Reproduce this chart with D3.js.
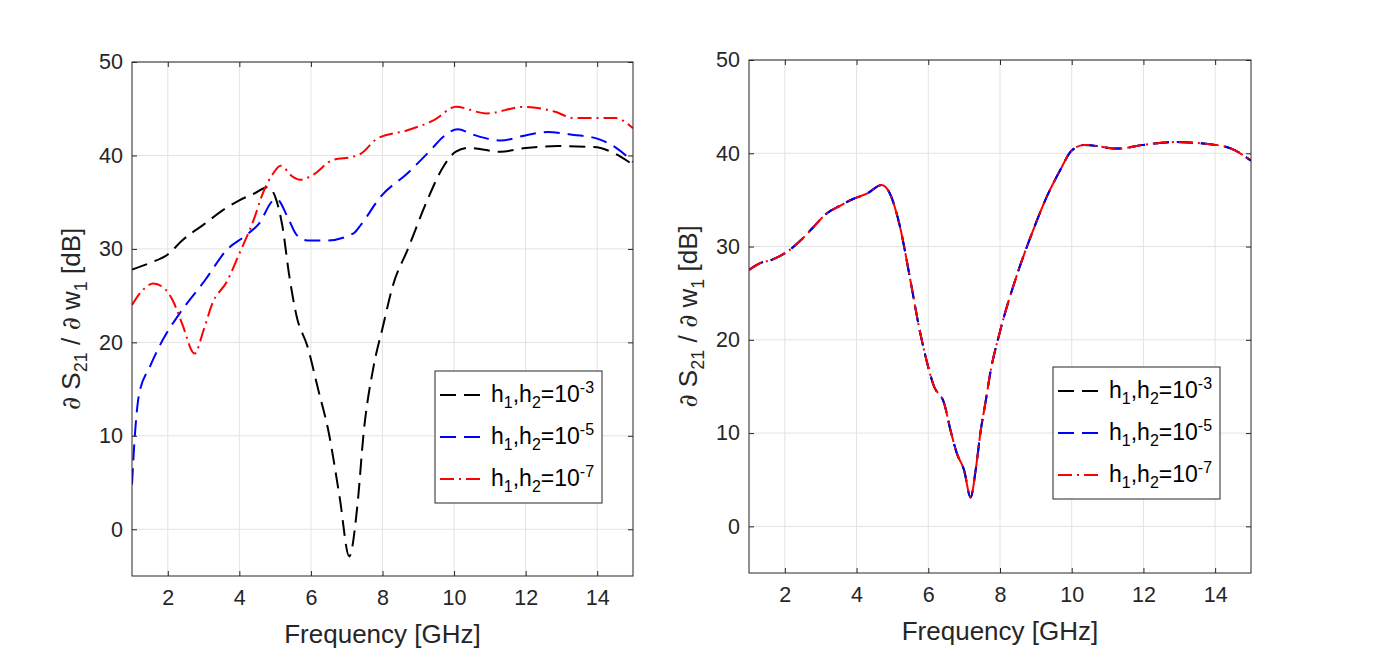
<!DOCTYPE html>
<html>
<head>
<meta charset="utf-8">
<script src="https://cdn.jsdelivr.net/npm/d3@7"></script>
<style>
  body { margin: 0; background: #fff; }
  svg { font-family: "Liberation Sans", Arial, Helvetica, sans-serif; }
  .tick text { fill: #262626; }
</style>
</head>
<body>
<div id="chart"></div>
<script>
// ---- data ----
var xTicks = [2, 4, 6, 8, 10, 12, 14]
var yTicks = [0, 10, 20, 30, 40, 50]

// left panel
var leftFreqBlack = [1.0, 1.5, 2.0, 2.4, 3.0, 3.6, 4.0, 4.4, 4.8, 5.0, 5.2, 5.4, 5.6, 5.9, 6.2, 6.5, 6.8, 7.07, 7.3, 7.47, 7.75, 8.0, 8.3, 8.7, 9.25, 9.7, 10.05, 10.4, 11.3, 12.0, 12.9, 13.9, 14.5, 15.0]
var leftBlack = [27.8, 28.5, 29.4, 30.9, 32.6, 34.3, 35.2, 35.9, 36.6, 35.6, 32.5, 27.0, 22.8, 19.6, 15.0, 10.3, 3.5, -2.9, 2.6, 10.2, 17.4, 21.5, 26.2, 29.9, 35.2, 38.8, 40.4, 40.8, 40.4, 40.8, 41.0, 40.9, 40.2, 39.0]

var leftFreqBlue = [1.0, 1.07, 1.2, 1.5, 1.85, 2.35, 3.05, 3.65, 4.2, 4.55, 4.95, 5.05, 5.35, 5.6, 5.9, 6.45, 7.2, 7.4, 7.95, 8.7, 9.35, 9.7, 10.1, 10.55, 11.3, 12.05, 12.6, 13.35, 14.0, 14.5, 15.0]
var leftBlue = [4.8, 9.5, 14.5, 17.4, 20.2, 23.2, 26.7, 29.9, 31.5, 32.7, 35.2, 35.3, 33.4, 31.5, 30.9, 30.9, 31.7, 32.6, 35.6, 38.1, 40.6, 42.0, 42.8, 42.2, 41.6, 42.2, 42.5, 42.2, 41.8, 40.9, 39.3]

var leftFreqRed = [1.0, 1.3, 1.6, 1.95, 2.15, 2.4, 2.75, 3.0, 3.25, 3.65, 4.0, 4.4, 4.65, 4.95, 5.15, 5.5, 5.7, 6.05, 6.6, 7.2, 7.4, 7.85, 8.7, 9.45, 10.05, 10.9, 11.95, 12.8, 13.35, 14.5, 15.0]
var leftRed = [24.0, 25.6, 26.3, 25.6, 24.4, 22.0, 18.8, 21.3, 24.2, 26.5, 29.5, 33.1, 35.9, 38.1, 38.9, 37.7, 37.4, 37.9, 39.5, 39.9, 40.2, 41.8, 42.7, 43.8, 45.2, 44.5, 45.2, 44.7, 44.0, 44.0, 42.9]

// right panel: the three step sizes give the same curve
var rightFreq = [1.0, 1.3, 1.65, 2.05, 2.45, 2.8, 3.15, 3.55, 3.9, 4.3, 4.7, 4.9, 5.2, 5.5, 5.75, 5.95, 6.15, 6.45, 6.62, 6.8, 7.0, 7.18, 7.32, 7.46, 7.6, 7.74, 7.98, 8.45, 8.85, 9.3, 9.68, 10.0, 10.35, 11.3, 12.0, 12.8, 14.0, 14.45, 15.0]
var rightAll = [27.5, 28.2, 28.6, 29.4, 30.7, 32.1, 33.5, 34.4, 35.1, 35.7, 36.6, 35.9, 32.3, 26.4, 21.2, 17.8, 15.1, 13.1, 10.3, 7.8, 6.0, 3.1, 6.0, 10.2, 13.4, 16.7, 20.6, 26.7, 31.0, 35.3, 38.2, 40.3, 40.9, 40.5, 40.9, 41.2, 40.9, 40.5, 39.2]

var legendExp = ["-3", "-5", "-7"]
var colors = ["#000000", "#0000ff", "#ff0000"]
var dashes = ["16,8", "16,8", "14,5,2,5"]

var W = 1394, H = 648

var svg = d3.select("#chart").append("svg").attr("width", W).attr("height", H)

var panels = [
  { left: 132, right: 633, top: 62, bottom: 576,
    series: [[leftFreqBlack, leftBlack], [leftFreqBlue, leftBlue], [leftFreqRed, leftRed]],
    legend: { x: 435, y: 371, w: 167, h: 132 } },
  { left: 749, right: 1251, top: 60, bottom: 573,
    series: [[rightFreq, rightAll], [rightFreq, rightAll], [rightFreq, rightAll]],
    legend: { x: 1053, y: 367, w: 167, h: 132 } }
]

panels.forEach(function (p) {
  var xs = d3.scaleLinear().domain([1, 15]).range([p.left, p.right])
  var ys = d3.scaleLinear().domain([-5, 50]).range([p.bottom, p.top])

  // grid
  var grid = svg.append("g")
  grid.selectAll(".gx").data(xTicks).enter().append("line")
    .attr("x1", d => xs(d)).attr("x2", d => xs(d))
    .attr("y1", p.top).attr("y2", p.bottom)
    .attr("stroke", "#e3e3e3").attr("stroke-width", 1)
  grid.selectAll(".gy").data(yTicks).enter().append("line")
    .attr("y1", d => ys(d)).attr("y2", d => ys(d))
    .attr("x1", p.left).attr("x2", p.right)
    .attr("stroke", "#e3e3e3").attr("stroke-width", 1)

  // axes (ticks point inward, box on)
  var axB = svg.append("g").attr("transform", "translate(0," + p.bottom + ")")
    .call(d3.axisBottom(xs).tickValues(xTicks).tickSize(-5).tickPadding(14))
  var axT = svg.append("g").attr("transform", "translate(0," + p.top + ")")
    .call(d3.axisTop(xs).tickValues(xTicks).tickSize(-5).tickFormat(""))
  var axL = svg.append("g").attr("transform", "translate(" + p.left + ",0)")
    .call(d3.axisLeft(ys).tickValues(yTicks).tickSize(-5).tickPadding(9))
  var axR = svg.append("g").attr("transform", "translate(" + p.right + ",0)")
    .call(d3.axisRight(ys).tickValues(yTicks).tickSize(-5).tickFormat(""))
  ;[axB, axT, axL, axR].forEach(function (a) {
    a.select(".domain").remove()
    a.selectAll("line").attr("stroke", "#262626")
    a.selectAll("text").style("font-size", "21.5px")
      .style("font-family", "'Liberation Sans', Arial, sans-serif")
  })

  // curves
  var clipId = "clip" + p.left
  svg.append("clipPath").attr("id", clipId).append("rect")
    .attr("x", p.left).attr("y", p.top).attr("width", p.right - p.left).attr("height", p.bottom - p.top)
  var line = d3.line().x(d => xs(d[0])).y(d => ys(d[1])).curve(d3.curveMonotoneX)
  p.series.forEach(function (s, i) {
    var pts = s[0].map((f, k) => [f, s[1][k]])
    svg.append("path").datum(pts)
      .attr("clip-path", "url(#" + clipId + ")")
      .attr("d", line)
      .attr("fill", "none")
      .attr("stroke", colors[i])
      .attr("stroke-width", 2)
      .attr("stroke-dasharray", dashes[i])
  })

  // box
  svg.append("rect")
    .attr("x", p.left).attr("y", p.top)
    .attr("width", p.right - p.left).attr("height", p.bottom - p.top)
    .attr("fill", "none").attr("stroke", "#262626").attr("stroke-width", 1)

  // x label
  svg.append("text")
    .attr("x", (p.left + p.right) / 2).attr("y", p.bottom + 67)
    .attr("text-anchor", "middle")
    .style("font-size", "26px").attr("fill", "#262626")
    .text("Frequency [GHz]")

  // y label
  var yl = svg.append("text")
    .attr("transform", "translate(" + (p.left - 52) + "," + ((p.top + p.bottom) / 2) + ") rotate(-90)")
    .attr("text-anchor", "middle")
    .style("font-size", "26px").attr("fill", "#262626")
  yl.append("tspan").style("font-family", "'DejaVu Serif', serif").style("font-style", "italic").text("\u2202")
  yl.append("tspan").text(" S")
  yl.append("tspan").attr("dy", 7).style("font-size", "18px").text("21")
  yl.append("tspan").attr("dy", -7).text(" / ")
  yl.append("tspan").style("font-family", "'DejaVu Serif', serif").style("font-style", "italic").text("\u2202")
  yl.append("tspan").text(" w")
  yl.append("tspan").attr("dy", 7).style("font-size", "18px").text("1")
  yl.append("tspan").attr("dy", -7).text(" [dB]")

  // legend
  var lg = svg.append("g").attr("transform", "translate(" + p.legend.x + "," + p.legend.y + ")")
  lg.append("rect").attr("width", p.legend.w).attr("height", p.legend.h)
    .attr("fill", "#fff").attr("stroke", "#262626").attr("stroke-width", 1)
  legendExp.forEach(function (e, i) {
    var cy = 24 + i * 42
    lg.append("line").attr("x1", 5).attr("x2", 47).attr("y1", cy).attr("y2", cy)
      .attr("stroke", colors[i]).attr("stroke-width", 2).attr("stroke-dasharray", dashes[i])
    var t = lg.append("text").attr("x", 56).attr("y", cy + 7)
      .style("font-size", "23px").attr("fill", "#000")
    t.append("tspan").text("h")
    t.append("tspan").attr("dy", 6).style("font-size", "16px").text("1")
    t.append("tspan").attr("dy", -6).text(",h")
    t.append("tspan").attr("dy", 6).style("font-size", "16px").text("2")
    t.append("tspan").attr("dy", -6).text("=10")
    t.append("tspan").attr("dy", -9).style("font-size", "16px").text(e)
  })
})
</script>
</body>
</html>
